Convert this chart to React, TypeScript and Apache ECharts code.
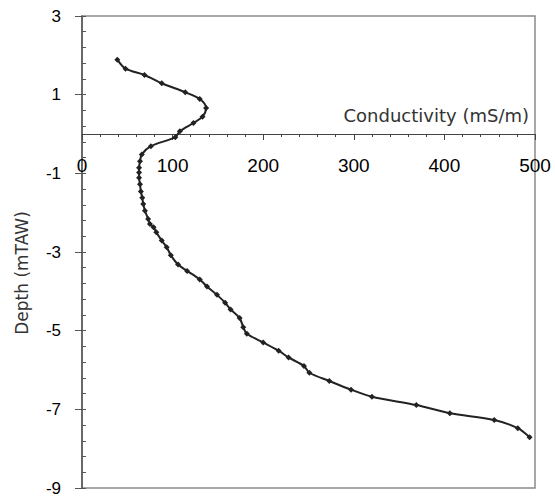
import React, { useEffect, useRef } from "react";
import * as echarts from "echarts";

const depth = [1.89, 1.66, 1.5, 1.29, 1.06, 0.89, 0.66, 0.44, 0.28, 0.07, -0.08, -0.31, -0.52, -0.69, -0.86, -0.98, -1.11, -1.28, -1.46, -1.62, -1.78, -1.95, -2.16, -2.29, -2.37, -2.5, -2.71, -2.88, -3.08, -3.32, -3.48, -3.7, -3.88, -4.09, -4.29, -4.46, -4.68, -4.91, -5.08, -5.3, -5.51, -5.68, -5.9, -6.07, -6.28, -6.5, -6.68, -6.89, -7.1, -7.27, -7.48, -7.71];
const conductivity = [39, 48, 69, 88, 114, 130, 137, 133, 123, 108, 103, 76, 66, 64, 63, 63, 63, 64, 65, 66.5, 67.6, 69.5, 73, 75, 79, 82, 88, 93.5, 98, 106, 116, 130, 138, 149, 158, 164, 174, 178, 182, 200, 217, 228, 245, 251, 273, 297, 320, 369, 406, 455, 481, 494];

const xMin = 0;
const xMax = 500;
const xStep = 100;
const depthMin = -9;
const depthMax = 3;
const depthStep = 2;

const xTitle = "Conductivity (mS/m)";
const yTitle = "Depth (mTAW)";

const W = 555;
const H = 497;
const G_LEFT = 82;
const G_RIGHT = 20;
const G_TOP = 16;
const G_BOTTOM = 9;

export default function App() {
  const ref = useRef<HTMLDivElement>(null);
  useEffect(() => {
    if (!ref.current) return;
    const chart = echarts.init(ref.current, null, { renderer: "svg" });
    const span = depthMax - depthMin;
    const plotH = H - G_TOP - G_BOTTOM;
    // distance from the grid bottom up to depth 0
    const zeroOffset = (plotH * (0 - depthMin)) / span;
    const option: any = {
      animation: false,
      backgroundColor: "#ffffff",
      grid: {
        left: G_LEFT,
        right: G_RIGHT,
        top: G_TOP,
        bottom: G_BOTTOM,
        containLabel: false,
        outerBoundsMode: "none",
        show: true,
        borderColor: "#8a8a8a",
        borderWidth: 1.5,
        backgroundColor: "transparent",
      },
      xAxis: {
        type: "value",
        min: xMin,
        max: xMax,
        interval: xStep,
        position: "bottom",
        offset: -zeroOffset,
        axisLine: {
          show: true,
          onZero: false,
          lineStyle: { color: "#444", width: 1.2 },
        },
        axisTick: { show: true, length: 6, lineStyle: { color: "#444" } },
        minorTick: { show: true, splitNumber: 5, length: 3, lineStyle: { color: "#444" } },
        splitLine: { show: false },
        axisLabel: {
          margin: 22,
          fontSize: 19,
          color: "#000",
          fontFamily: "Liberation Sans",
        },
      },
      yAxis: [
        {
          type: "value",
          min: depthMin,
          max: depthMax,
          show: false,
          splitLine: { show: false },
        },
        {
          type: "value",
          min: 0,
          max: span,
          interval: depthStep,
          position: "left",
          axisLine: { show: true, onZero: false, lineStyle: { color: "#555", width: 1.5 } },
          axisTick: { show: true, length: 7, lineStyle: { color: "#555" } },
          splitLine: { show: false },
          axisLabel: {
            margin: 21,
            fontSize: 17,
            color: "#000",
            fontFamily: "Liberation Sans",
            formatter: (v: number) => String(v + depthMin),
          },
        },
        {
          type: "value",
          min: 0,
          max: span,
          interval: depthStep,
          position: "left",
          axisLine: { show: false, onZero: false },
          axisTick: { show: true, inside: true, length: 4, lineStyle: { color: "#555" } },
          minorTick: { show: true, splitNumber: 5, length: 4, lineStyle: { color: "#555" } },
          splitLine: { show: false },
          axisLabel: { show: false },
        },
      ],
      series: [
        {
          type: "line",
          yAxisIndex: 0,
          data: conductivity.map((c, i) => [c, depth[i]]),
          smooth: 0.3,
          symbol: "diamond",
          symbolSize: 6,
          showSymbol: true,
          itemStyle: { color: "#222" },
          lineStyle: { color: "#222", width: 2 },
        },
      ],
      graphic: [
        {
          type: "text",
          right: W - 529,
          top: 106,
          style: {
            text: xTitle,
            fontSize: 18,
            fontFamily: "DejaVu Sans",
            fill: "#333",
          },
        },
        {
          type: "text",
          x: 22,
          y: 273,
          rotation: Math.PI / 2,
          style: {
            text: yTitle,
            fontSize: 17,
            fontFamily: "DejaVu Sans",
            fill: "#333",
            align: "center",
            verticalAlign: "middle",
          },
        },
      ],
    };
    chart.setOption(option);
    return () => chart.dispose();
  }, []);
  return (
    <div
      ref={ref}
      style={{ position: "absolute", left: 0, top: 0, width: W, height: H }}
    />
  );
}
